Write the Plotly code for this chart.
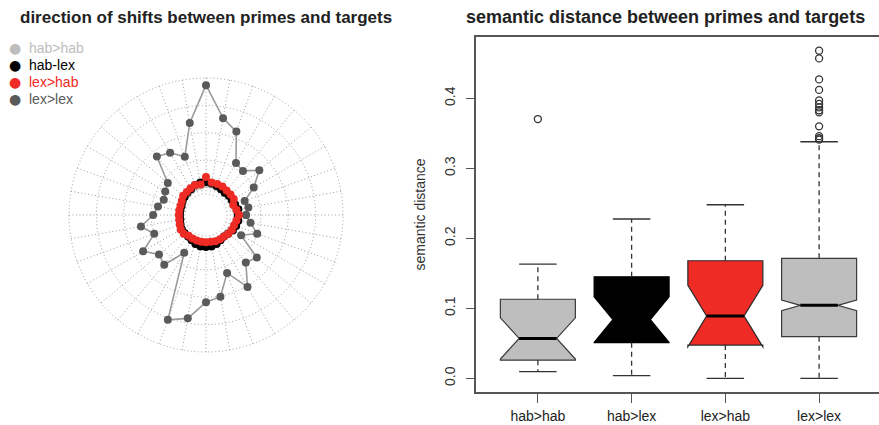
import plotly.graph_objects as go

# ---------------- data: left panel (polar) ----------------
angles = list(range(0, 360, 10))
hab_hab = [1.13, 1.10, 1.06, 1.06, 1.06, 1.06, 1.09, 1.09, 1.13, 1.13, 1.09, 1.09, 1.06, 1.02, 1.02,
           0.99, 0.95, 0.95, 0.95, 0.99, 1.02, 1.08, 1.06, 0.99, 0.99, 0.99, 0.99, 0.99, 0.99, 1.02,
           1.02, 1.02, 1.02, 1.06, 1.09, 1.13]
hab_lex = [1.17, 1.20, 1.13, 1.09, 1.09, 1.06, 1.09, 1.13, 1.17, 1.20, 1.20, 1.17, 1.09, 1.06, 1.02,
           0.99, 0.95, 0.95, 0.95, 0.95, 0.99, 1.02, 1.02, 1.02, 1.06, 1.13, 1.17, 1.17, 1.17, 1.13,
           1.06, 1.02, 1.06, 1.13, 1.17, 1.20]
lex_hab = [1.20, 1.13, 1.06, 1.17, 1.17, 1.17, 1.20, 1.20, 1.20, 1.39, 1.13, 1.17, 1.13, 1.09, 1.09,
           1.02, 0.99, 0.99, 0.99, 0.99, 1.02, 1.06, 1.06, 0.99, 0.99, 0.99, 0.99, 0.99, 0.99, 1.02,
           1.02, 1.02, 1.06, 1.09, 1.09, 1.13]
lex_lex = [1.46, 1.57, 1.50, 2.01, 2.54, 2.10, 2.19, 3.24, 3.59, 4.74, 3.41, 2.26, 2.62, 2.79, 1.82,
           1.72, 1.64, 1.78, 1.93, 2.41, 2.01, 2.65, 2.24, 2.37, 1.59, 4.07, 3.83, 3.18, 3.03, 2.25,
           3.03, 2.26, 2.42, 1.48, 1.99, 1.65]
series_names = ["hab>hab", "hab-lex", "lex>hab", "lex>lex"]
series_colors = ["#bdbdbd", "#000000", "#ee2b24", "#5a5a5a"]
radial_rings = [1, 2, 3, 4, 5]

# ---------------- data: right panel (boxplot) ----------------
categories = ["hab>hab", "hab>lex", "lex>hab", "lex>lex"]
q1 = [0.026, 0.051, 0.0476, 0.0595]
median = [0.057, 0.084, 0.089, 0.1043]
q3 = [0.113, 0.145, 0.168, 0.1714]
notch = [0.0295, 0.0326, 0.044, 0.0076]
lower_whisker = [0.0095, 0.0038, 0.0, 0.0]
upper_whisker = [0.1633, 0.2276, 0.248, 0.338]
outliers = [[0.3704], [], [],
            [0.468, 0.457, 0.427, 0.412, 0.397, 0.392, 0.387, 0.383, 0.380, 0.360, 0.346, 0.343, 0.341]]
box_fill = ["#bebebe", "#000000", "#ee2b24", "#bebebe"]
box_line = ["#3a3a3a", "#000000", "#2a2a2a", "#3a3a3a"]
y_ticks = [0.0, 0.1, 0.2, 0.3, 0.4]

FONT = "Liberation Sans, Arial, sans-serif"
W, H = 879, 425
mt, mb = 37, 33
ph = H - mt - mb

fig = go.Figure()

# polar traces (drawing order: light grey, lex>lex, black, red)
draw_order = [0, 3, 1, 2]
all_r = [hab_hab, hab_lex, lex_hab, lex_lex]
for i in draw_order:
    r = all_r[i] + all_r[i][:1]
    th = angles + angles[:1]
    line_col = "#9a9a9a" if i == 3 else series_colors[i]
    fig.add_trace(go.Scatterpolar(
        r=r, theta=th, mode="lines+markers", showlegend=False, name=series_names[i],
        line=dict(color=line_col, width=1.6),
        marker=dict(color=series_colors[i], size=8),
        hoverinfo="skip", subplot="polar"))

# boxplots
xpos = [1, 2, 3, 4]
half = 0.4
for k in range(4):
    fig.add_trace(go.Box(
        x=[xpos[k]], q1=[q1[k]], median=[median[k]], q3=[q3[k]],
        lowerfence=[q1[k]], upperfence=[q3[k]], notchspan=[notch[k]], notched=True,
        notchwidth=0.25, width=2 * half, whiskerwidth=0, boxpoints=False,
        fillcolor=box_fill[k], line=dict(color=box_line[k], width=1.2),
        showlegend=False, hoverinfo="skip", xaxis="x", yaxis="y"))
    # dashed whiskers
    fig.add_trace(go.Scatter(
        x=[xpos[k], xpos[k], None, xpos[k], xpos[k]],
        y=[q3[k], upper_whisker[k], None, q1[k], lower_whisker[k]],
        mode="lines", line=dict(color="#333333", width=1.3, dash="5px,4px"),
        showlegend=False, hoverinfo="skip"))
    # staples
    fig.add_trace(go.Scatter(
        x=[xpos[k] - half / 2, xpos[k] + half / 2, None, xpos[k] - half / 2, xpos[k] + half / 2],
        y=[upper_whisker[k], upper_whisker[k], None, lower_whisker[k], lower_whisker[k]],
        mode="lines", line=dict(color="#333333", width=1.3),
        showlegend=False, hoverinfo="skip"))
    # thick median
    fig.add_trace(go.Scatter(
        x=[xpos[k] - half / 2, xpos[k] + half / 2], y=[median[k], median[k]],
        mode="lines", line=dict(color="#000000", width=3),
        showlegend=False, hoverinfo="skip"))
    if outliers[k]:
        fig.add_trace(go.Scatter(
            x=[xpos[k]] * len(outliers[k]), y=outliers[k], mode="markers",
            marker=dict(symbol="circle-open", size=7, color="#333333", line=dict(width=1.3)),
            showlegend=False, hoverinfo="skip"))

# polar geometry: center (206, 215) px, 27.4 px per radial unit
cx, cy, unit = 206.0, 215.0, 27.4
rmin, rmax = 0.75, 5.08
R = unit * rmax
hole = unit * rmin / R
polar_x = [(cx - R) / W, (cx + R) / W]
polar_y = [1 - (cy + R - mt) / ph, 1 - (cy - R - mt) / ph]

fig.update_layout(
    width=W, height=H, margin=dict(l=0, r=0, t=mt, b=mb, autoexpand=False),
    paper_bgcolor="white", plot_bgcolor="white",
    font=dict(family=FONT, size=14, color="#333333"),
    showlegend=False,
    polar=dict(
        domain=dict(x=polar_x, y=polar_y),
        hole=hole, bgcolor="white",
        radialaxis=dict(range=[rmin, rmax], tickvals=radial_rings, showticklabels=False, ticks="",
                        showline=False, gridcolor="#9d9d9d", griddash="1px,2.5px", gridwidth=1.3),
        angularaxis=dict(tickmode="linear", tick0=0, dtick=10, showticklabels=False, ticks="",
                         showline=False, gridcolor="#9d9d9d", griddash="1px,2.5px", gridwidth=1.3,
                         rotation=0, direction="counterclockwise"),
    ),
    xaxis=dict(domain=[476 / W, 1], range=[0.34, 4.639], tickmode="array", tickvals=xpos,
               ticktext=categories, showgrid=False, zeroline=False, showline=True, mirror=True,
               linecolor="#555555", linewidth=1.5, ticks="outside", ticklen=9, tickcolor="#555555",
               tickwidth=1.3, ticklabelstandoff=1, automargin=False,
               tickfont=dict(size=14, color="#222222")),
    yaxis=dict(range=[-0.0195, 0.4876], tickmode="array", tickvals=y_ticks,
               ticktext=[f"{v:.1f}" for v in y_ticks], tickangle=-90, showgrid=False,
               zeroline=False, showline=True, linecolor="#555555", linewidth=1.5, ticks="outside",
               ticklen=8, tickcolor="#555555", tickwidth=1.3, ticklabelstandoff=6, automargin=False,
               tickfont=dict(size=14, color="#333333")),
)

# legend (drawn as text rows at the top-left)
legend_rows_y = [48, 65, 82, 99]
for i, nm in enumerate(series_names):
    yy = 1 - (legend_rows_y[i] - mt) / ph
    fig.add_annotation(text="●", xref="paper", yref="paper", x=15 / W, y=yy, xanchor="center",
                       yanchor="middle", showarrow=False,
                       font=dict(size=14, color=series_colors[i], family="DejaVu Sans"))
    fig.add_annotation(text=nm, xref="paper", yref="paper", x=27 / W, y=yy, xanchor="left",
                       yanchor="middle", showarrow=False, font=dict(size=14, color=series_colors[i]))

fig.add_annotation(text="<b>direction of shifts between primes and targets</b>", xref="paper", yref="paper",
                   x=206 / W, y=1 + (mt - 17) / ph, xanchor="center", yanchor="middle", showarrow=False,
                   font=dict(size=17, color="#222222"))
fig.add_annotation(text="<b>semantic distance between primes and targets</b>", xref="paper", yref="paper",
                   x=665 / W, y=1 + (mt - 17) / ph, xanchor="center", yanchor="middle", showarrow=False,
                   font=dict(size=18, color="#222222"))
fig.add_annotation(text="semantic distance", xref="paper", yref="paper", x=419 / W, y=0.5,
                   xanchor="center", yanchor="middle", textangle=-90, showarrow=False,
                   font=dict(size=14, color="#333333"))

fig.write_html("out.html", config={"displayModeBar": False},
               post_script="document.body.style.margin='0';")
